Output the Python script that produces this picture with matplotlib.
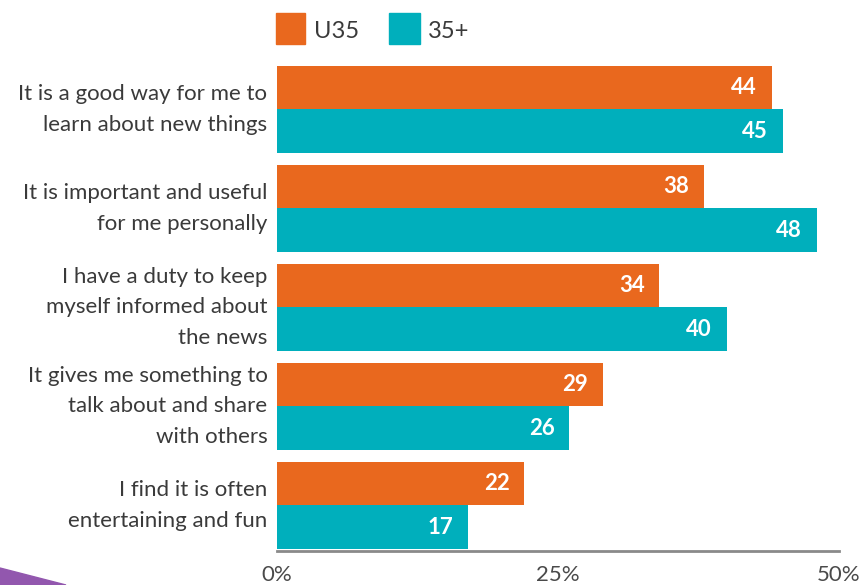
import matplotlib
matplotlib.use("Agg")
import matplotlib.pyplot as plt
from matplotlib.patches import Rectangle, Polygon

plt.rcParams['font.family'] = ['Lato', 'DejaVu Sans']

categories = [
    "It is a good way for me to\nlearn about new things",
    "It is important and useful\nfor me personally",
    "I have a duty to keep\nmyself informed about\nthe news",
    "It gives me something to\ntalk about and share\nwith others",
    "I find it is often\nentertaining and fun",
]
u35 = [44, 38, 34, 29, 22]
over35 = [45, 48, 40, 26, 17]
series_names = ["U35", "35+"]
xticks = [0, 25, 50]
xtick_labels = ["0%", "25%", "50%"]

ORANGE = "#E9681E"
TEAL = "#00AFBC"
TEXT = "#3a3a3a"

fig = plt.figure(figsize=(8.63, 5.85), dpi=100)
ax = fig.add_axes([277 / 863, 1 - 551 / 585, (839 - 277) / 863, (551 - 60) / 585])

h = 0.44
ys = list(range(len(categories)))
ax.barh([y - h / 2 for y in ys], u35, height=h, color=ORANGE, linewidth=0)
ax.barh([y + h / 2 for y in ys], over35, height=h, color=TEAL, linewidth=0)

for y, a, b in zip(ys, u35, over35):
    ax.text(a - 1.3, y - h / 2, str(a), ha="right", va="center",
            color="white", fontsize=16, fontweight="bold")
    ax.text(b - 1.3, y + h / 2, str(b), ha="right", va="center",
            color="white", fontsize=16, fontweight="bold")

ax.set_xlim(0, 50)
ax.set_ylim(4.46, -0.5)

for s in ["top", "right", "left"]:
    ax.spines[s].set_visible(False)
ax.spines["bottom"].set_color("#8a8a8a")
ax.spines["bottom"].set_linewidth(2)

ax.set_xticks(xticks)
ax.set_xticklabels(xtick_labels, fontsize=16, color="#4a4a4a")
ax.tick_params(axis="x", length=0, pad=10)
ax.set_yticks([])

for y, lab in zip(ys, categories):
    ax.text(-0.85, y, lab, ha="right", va="center", fontsize=16,
            color=TEXT, linespacing=1.68, transform=ax.transData)

# legend swatches
fig.patches.append(Rectangle((276 / 863, 1 - 44 / 585), 29 / 863, 31 / 585,
                             transform=fig.transFigure, color=ORANGE))
fig.text(314 / 863, 1 - 31 / 585, series_names[0], fontsize=17, color=TEXT,
         va="center", ha="left")
fig.patches.append(Rectangle((389 / 863, 1 - 44 / 585), 31 / 863, 31 / 585,
                             transform=fig.transFigure, color=TEAL))
fig.text(428 / 863, 1 - 31 / 585, series_names[1], fontsize=17, color=TEXT,
         va="center", ha="left")

# corner accent
fig.patches.append(Polygon([(0, 0), (0, 17 / 585), (66 / 863, 0)], closed=True,
                           transform=fig.transFigure, color="#9257AE"))

fig.savefig("out.png", dpi=100)
